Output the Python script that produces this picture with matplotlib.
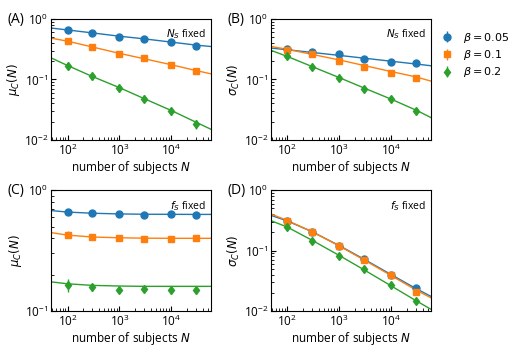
import numpy as np
import matplotlib
matplotlib.use('Agg')
import matplotlib.pyplot as plt
from matplotlib.ticker import NullFormatter

plt.rcParams['font.family'] = ['Open Sans', 'DejaVu Sans']
plt.rcParams['mathtext.fontset'] = 'dejavusans'

# ─────────────────────────────────────────
# DATOS
# ─────────────────────────────────────────
N_pts = [100, 300, 1000, 3000, 10000, 30000]
N_line = [50, 100, 300, 1000, 3000, 10000, 30000, 60000]
betas = ['0.05', '0.1', '0.2']

# (A) mu_C, N_S fijo
a_mu = [[0.656, 0.59, 0.514, 0.476, 0.419, 0.364],
        [0.44, 0.34, 0.264, 0.224, 0.173, 0.139],
        [0.167, 0.112, 0.0727, 0.0482, 0.0297, 0.018]]
a_err = [[0.02, 0.015, 0.012, 0.01, 0.01, 0.01],
         [0.02, 0.015, 0.01, 0.008, 0.007, 0.006],
         [0.025, 0.015, 0.009, 0.006, 0.004, 0.003]]
a_fit = [[0.708, 0.66, 0.59, 0.52, 0.47, 0.415, 0.37, 0.35],
         [0.48, 0.43, 0.345, 0.27, 0.22, 0.175, 0.14, 0.123],
         [0.224, 0.17, 0.112, 0.073, 0.048, 0.0305, 0.0195, 0.0147]]

# (B) sigma_C, N_S fijo
b_sig = [[0.32, 0.29, 0.26, 0.22, 0.195, 0.185],
         [0.31, 0.265, 0.205, 0.16, 0.13, 0.105],
         [0.24, 0.16, 0.105, 0.07, 0.047, 0.030]]
b_err = [[0.02, 0.015, 0.015, 0.012, 0.01, 0.01],
         [0.02, 0.015, 0.012, 0.01, 0.008, 0.006],
         [0.025, 0.015, 0.01, 0.006, 0.004, 0.003]]
b_fit = [[0.33, 0.31, 0.28, 0.25, 0.225, 0.2, 0.18, 0.168],
         [0.35, 0.315, 0.26, 0.21, 0.17, 0.135, 0.11, 0.093],
         [0.30, 0.24, 0.163, 0.107, 0.072, 0.047, 0.031, 0.023]]

# (C) mu_C, f_S fijo
c_mu = [[0.656, 0.643, 0.631, 0.627, 0.631, 0.627],
        [0.43, 0.407, 0.403, 0.398, 0.398, 0.40],
        [0.163, 0.157, 0.15, 0.152, 0.15, 0.15]]
c_err = [[0.02, 0.012, 0.008, 0.006, 0.005, 0.005],
         [0.03, 0.012, 0.008, 0.006, 0.005, 0.005],
         [0.02, 0.011, 0.006, 0.005, 0.005, 0.005]]
c_fit = [[0.678, 0.66, 0.645, 0.637, 0.633, 0.632, 0.631, 0.631],
         [0.445, 0.425, 0.41, 0.404, 0.401, 0.40, 0.40, 0.40],
         [0.174, 0.168, 0.163, 0.161, 0.160, 0.160, 0.160, 0.160]]

# (D) sigma_C, f_S fijo
d_sig = [[0.31, 0.205, 0.121, 0.072, 0.039, 0.024],
         [0.31, 0.205, 0.121, 0.071, 0.039, 0.021],
         [0.245, 0.147, 0.082, 0.049, 0.0265, 0.0148]]
d_err = [[0.02, 0.012, 0.007, 0.004, 0.002, 0.0015],
         [0.02, 0.012, 0.007, 0.004, 0.002, 0.0015],
         [0.02, 0.012, 0.007, 0.004, 0.002, 0.0012]]
d_fit = [[0.38, 0.31, 0.205, 0.121, 0.072, 0.040, 0.0235, 0.0172],
         [0.40, 0.315, 0.206, 0.119, 0.070, 0.0385, 0.0222, 0.0163],
         [0.31, 0.245, 0.148, 0.083, 0.048, 0.026, 0.0148, 0.0105]]

colores = ['#1f77b4', '#ff7f0e', '#2ca02c']
marcadores = ['o', 's', 'd']

# ─────────────────────────────────────────
# FIGURA
# ─────────────────────────────────────────
fig = plt.figure(figsize=(5.13, 3.53), dpi=100)
w, h = 0.312, 0.342
paneles = [
    ('(A)', [0.0994, 0.604, w, h], a_mu, a_err, a_fit, r'$\mu_C(N)$', (1e-2, 1), r'$N_S$ fixed'),
    ('(B)', [0.528, 0.604, w, h], b_sig, b_err, b_fit, r'$\sigma_C(N)$', (1e-2, 1), r'$N_S$ fixed'),
    ('(C)', [0.0994, 0.119, w, h], c_mu, c_err, c_fit, r'$\mu_C(N)$', (1e-1, 1), r'$f_S$ fixed'),
    ('(D)', [0.528, 0.119, w, h], d_sig, d_err, d_fit, r'$\sigma_C(N)$', (1e-2, 1), r'$f_S$ fixed'),
]

handles = []
for letra, pos, vals, errs, fits, ylab, ylim, nota in paneles:
    ax = fig.add_axes(pos)
    for i in range(3):
        ax.plot(N_line, fits[i], color=colores[i], lw=1.0, zorder=2)
        eb = ax.errorbar(N_pts, vals[i], yerr=errs[i], fmt=marcadores[i],
                         color=colores[i], ms=5 if i < 2 else 4.5,
                         elinewidth=1.0, capsize=0, zorder=3,
                         label=rf'$\beta = {betas[i]}$')
        if letra == '(B)':
            handles.append(eb)
    ax.set_xscale('log')
    ax.set_yscale('log')
    ax.set_xlim(48, 5.8e4)
    ax.set_ylim(*ylim)
    ax.yaxis.set_minor_formatter(NullFormatter())
    ax.tick_params(which='both', direction='in', labelsize=8.5, pad=2)
    ax.tick_params(which='major', length=3.5)
    ax.tick_params(which='minor', length=2)
    ax.set_xlabel(r'number of subjects $N$', fontsize=8.5, labelpad=1)
    ax.set_ylabel(ylab, fontsize=8.5, labelpad=1)
    ax.text(0.97, 0.93, nota, transform=ax.transAxes, ha='right', va='top',
            fontsize=7.5)
    fig.text(pos[0] - 0.085, pos[1] + pos[3], letra, ha='left', va='center',
             fontsize=10)

fig.legend(handles=handles, loc='upper left', bbox_to_anchor=(0.848, 0.935),
           frameon=False, fontsize=8, handlelength=0.8, handletextpad=1.0,
           labelspacing=0.3, borderpad=0.2)

plt.savefig('out.png', dpi=100)
plt.close()
